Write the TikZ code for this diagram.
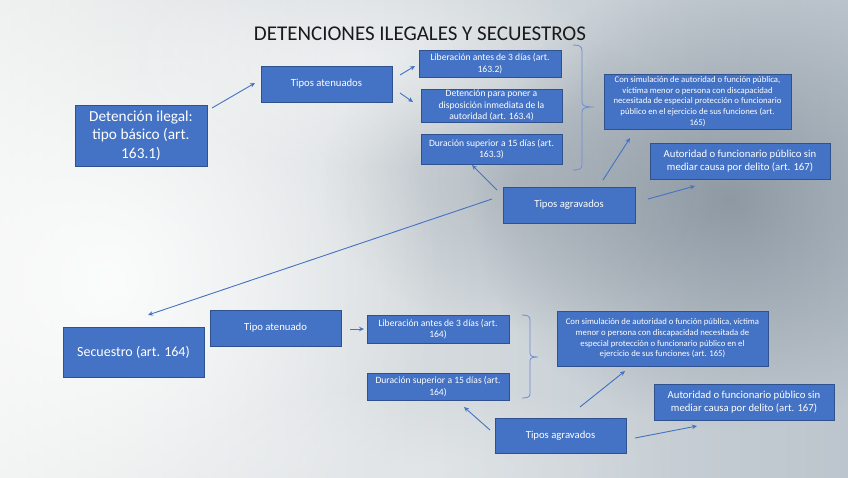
\documentclass[tikz,border=0pt]{standalone}
\usepackage{fontspec}
\setmainfont{Carlito}
\usetikzlibrary{arrows.meta,fadings}
\definecolor{boxblue}{HTML}{4472C4}
\definecolor{boxedge}{HTML}{2F528F}
\definecolor{arrowblue}{HTML}{4472C4}
\definecolor{bgL}{HTML}{EEF0EF}
\definecolor{bgR}{HTML}{BCC5CD}
\definecolor{bgD}{HTML}{7C8894}
\definecolor{titlecol}{HTML}{1A1A1A}
\tikzfading[name=softglow, inner color=transparent!0, outer color=transparent!100]
\tikzset{
  box/.style 2 args={draw=boxedge, line width=0.7pt, fill=boxblue, text=white,
    align=center, inner sep=1pt, minimum width=#1pt, minimum height=#2pt},
  conn/.style={draw=arrowblue, line width=0.9pt, -{Stealth[length=5pt,width=4.5pt]}},
  bracecol/.style={draw=arrowblue!80!white, line width=0.8pt},
  fbig/.style={font=\fontsize{15.3}{18.3}\selectfont},
  fsec/.style={font=\fontsize{14}{16}\selectfont},
  fmid/.style={font=\fontsize{10.7}{12.7}\selectfont},
  fsmall/.style={font=\fontsize{9.6}{11.6}\selectfont},
  ftiny/.style={font=\fontsize{8.7}{10.6}\selectfont},
}
\begin{document}
\begin{tikzpicture}[x=1pt,y=-1pt]
\useasboundingbox (0,0) rectangle (848,477);
% background
\shade[left color=bgL, right color=bgR] (0,0) rectangle (848,477);
\fill[bgD, opacity=0.75, path fading=softglow] (730,200) ellipse [x radius=260, y radius=230];
\fill[bgD, opacity=0.35, path fading=softglow] (520,180) ellipse [x radius=200, y radius=150];
\fill[white, opacity=0.85, path fading=softglow] (110,280) ellipse [x radius=330, y radius=330];
\fill[white, opacity=0.5, path fading=softglow] (360,60) ellipse [x radius=240, y radius=110];
\fill[white, opacity=0.3, path fading=softglow] (420,470) ellipse [x radius=260, y radius=90];

% title
\node[text=titlecol, font=\fontsize{21}{24}\selectfont, inner sep=0pt] (title) at (420,34) {DETENCIONES ILEGALES Y SECUESTROS};

% top part
\node[box={132}{61}, fbig] (det) at (141,135.5) {Detención ilegal:\\tipo básico (art.\\163.1)};
\node[box={131}{36}, fmid] (tat) at (326.5,84) {Tipos atenuados};
\node[box={142}{27}, fsmall] (lib1) at (490,63.5) {Liberación antes de 3 días (art.\\163.2)};
\node[box={141}{33}, fsmall] (dpp) at (491.5,105.5) {Detención para poner a\\disposición inmediata de la\\autoridad (art. 163.4)};
\node[box={141}{30}, fsmall] (dur1) at (491.5,149) {Duración superior a 15 días (art.\\163.3)};
\node[box={187}{55}, ftiny] (sim1) at (697.5,101.5) {Con simulación de autoridad o función pública,\\víctima menor o persona con discapacidad\\necesitada de especial protección o funcionario\\público en el ejercicio de sus funciones (art.\\165)};
\node[box={180}{36}, fmid] (aut1) at (740,161) {Autoridad o funcionario público sin\\mediar causa por delito (art. 167)};
\node[box={132}{36}, fmid] (agr1) at (569,205) {Tipos agravados};

% bottom part
\node[box={141}{50}, fsec] (sec) at (133.5,352) {Secuestro (art. 164)};
\node[box={131}{36}, fmid] (tat2) at (275.5,328) {Tipo atenuado};
\node[box={142}{28}, fsmall] (lib2) at (438,329) {Liberación antes de 3 días (art.\\164)};
\node[box={142}{27}, fsmall] (dur2) at (438,386.5) {Duración superior a 15 días (art.\\164)};
\node[box={211}{55}, ftiny] (sim2) at (662.5,338.5) {Con simulación de autoridad o función pública, víctima\\menor o persona con discapacidad necesitada de\\especial protección o funcionario público en el\\ejercicio de sus funciones (art. 165)};
\node[box={180}{36}, fmid] (aut2) at (744,402) {Autoridad o funcionario público sin\\mediar causa por delito (art. 167)};
\node[box={131}{35}, fmid] (agr2) at (560.5,435.5) {Tipos agravados};

% connector end points
\coordinate (det-o) at (212,108);   \coordinate (tat-i) at (255,83);
\coordinate (tat-o1) at (400,75);   \coordinate (lib1-i) at (415,66);
\coordinate (tat-o2) at (400,93);   \coordinate (dpp-i) at (413,102);
\coordinate (agr1-o1) at (497,190); \coordinate (dur1-i) at (472,165);
\coordinate (agr1-o2) at (603,180); \coordinate (sim1-i) at (630,138);
\coordinate (agr1-o3) at (648,199); \coordinate (aut1-i) at (695,186);
\coordinate (agr1-o4) at (492,199); \coordinate (sec-i) at (148,315);
\coordinate (tat2-o) at (350,329);  \coordinate (lib2-i) at (364,329);
\coordinate (agr2-o1) at (490,430); \coordinate (dur2-i) at (464,407);
\coordinate (agr2-o2) at (580,407); \coordinate (sim2-i) at (625,371);
\coordinate (agr2-o3) at (635,438); \coordinate (aut2-i) at (697,426);

\draw[conn] (det-o) -- (tat-i);
\draw[conn] (tat-o1) -- (lib1-i);
\draw[conn] (tat-o2) -- (dpp-i);
\draw[conn] (agr1-o1) -- (dur1-i);
\draw[conn] (agr1-o2) -- (sim1-i);
\draw[conn] (agr1-o3) -- (aut1-i);
\draw[conn] (agr1-o4) -- (sec-i);
\draw[conn] (tat2-o) -- (lib2-i);
\draw[conn] (agr2-o1) -- (dur2-i);
\draw[conn] (agr2-o2) -- (sim2-i);
\draw[conn] (agr2-o3) -- (aut2-i);

% braces
\draw[bracecol] (573,45) .. controls (579,45) and (582,46) .. (582,51) -- (582,102)
  .. controls (582,106) and (585,107) .. (594,107)
  .. controls (585,107) and (582,108) .. (582,112) -- (582,165)
  .. controls (582,169) and (579,170) .. (573,170);
\draw[bracecol] (522,315) .. controls (527,315) and (530,316) .. (530,320) -- (530,353)
  .. controls (530,356) and (532,357) .. (538,357)
  .. controls (532,357) and (530,358) .. (530,361) -- (530,394)
  .. controls (530,397) and (527,398) .. (522,398);
\end{tikzpicture}
\end{document}
